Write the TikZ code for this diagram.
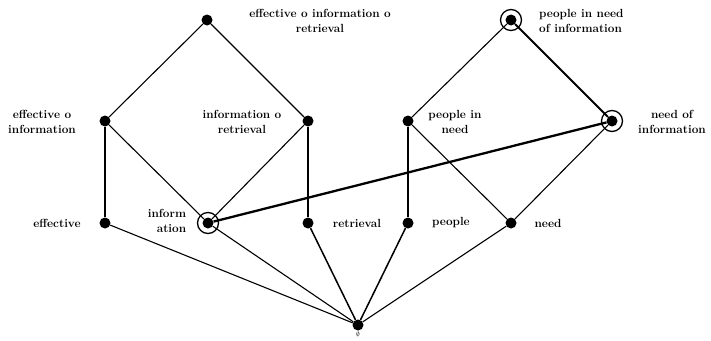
\documentclass[tikz,border=0pt]{standalone}
\begin{document}
\begin{tikzpicture}[x=1pt,y=-1pt,
  dot/.style={circle,fill=black,inner sep=0pt,minimum size=11pt},
  ring/.style={circle,draw=black,line width=1.3pt,inner sep=0pt,minimum size=21pt},
  lab/.style={font=\bfseries\fontsize{11.8}{15}\selectfont,inner sep=0pt,align=center},
  edge/.style={line width=1.1pt},
  mid/.style={line width=1.5pt},
  heavy/.style={line width=2.1pt}]
\useasboundingbox (0,0) rectangle (711,340);

% lattice elements
\node[dot] (eir) at (207,20) {};
\node[dot] (ei)  at (105,121) {};
\node[dot] (ir)  at (308,121) {};
\node[dot] (e)   at (105,223) {};
\node[dot] (i)   at (208,223) {};
\node[dot] (r)   at (308,223) {};
\node[dot] (pni) at (511,20) {};
\node[dot] (pn)  at (408,121) {};
\node[dot] (ni)  at (612,121) {};
\node[dot] (p)   at (408,223) {};
\node[dot] (n)   at (511,223) {};
\node[dot] (bot) at (358,325) {};

% marked elements
\node[ring] (ri) at (i) {};
\node[ring] (rpni) at (pni) {};
\node[ring] (rni) at (ni) {};

% covering relations
\draw[edge] (eir) -- (ei);
\draw[edge] (eir) -- (ir);
\draw[mid] (ei) -- (e);
\draw[edge] (ei) -- (i);
\draw[edge] (ir) -- (i);
\draw[mid] (ir) -- (r);
\draw[edge] (e) -- (bot);
\draw[edge] (i) -- (bot);
\draw[mid] (r) -- (bot);
\draw[mid] (p) -- (bot);
\draw[edge] (n) -- (bot);
\draw[edge] (pn) -- (pni);
\draw[heavy] (ni) -- (pni);
\draw[heavy] (pn) -- (p);
\draw[edge] (pn) -- (n);
\draw[edge] (ni) -- (n);
\draw[line width=2.3pt] (i) -- (ni);

% labels
\node[lab] (leir) at (320,21) {effective o information o\\retrieval};
\node[lab] (lei)  at (42,122) {effective o\\information};
\node[lab] (lir)  at (242,122) {information o\\retrieval};
\node[lab] (le)   at (57,223) {effective};
\node[lab,align=right] (li) at (167,221) {inform\\ation};
\node[lab] (lr)   at (357,223) {retrieval};
\node[lab] (lpni) [anchor=west,align=left] at (539,21) {people in need\\of information};
\node[lab] (lpn)  at (455,122) {people in\\need};
\node[lab] (lni)  at (672,122) {need of\\information};
\node[lab] (lp)   at (451,223) {people};
\node[lab] (ln)   at (548,223) {need};
\node[lab,font=\fontsize{6}{7}\selectfont,anchor=north] (lbot) at (358,332) {$\emptyset$};
\end{tikzpicture}
\end{document}
